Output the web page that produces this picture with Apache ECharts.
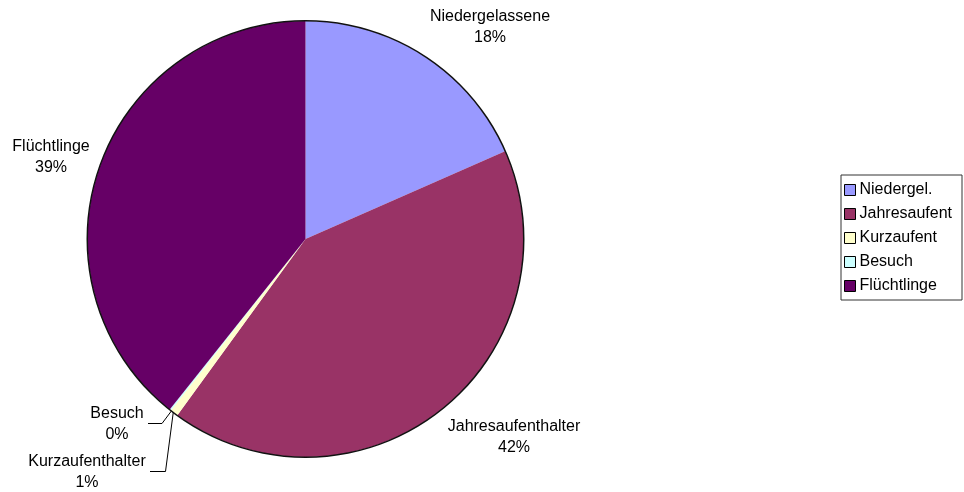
<!DOCTYPE html>
<html>
<head>
<meta charset="utf-8">
<script src="https://cdn.jsdelivr.net/npm/echarts@6/dist/echarts.min.js"></script>
<style>
html,body{margin:0;padding:0;background:#fff;}
#chart{width:964px;height:492px;}
</style>
</head>
<body>
<div id="chart"></div>
<script>
var legendNames = ['Niedergel.', 'Jahresaufent', 'Kurzaufent', 'Besuch', 'Flüchtlinge'];
var labelNames = ['Niedergelassene', 'Jahresaufenthalter', 'Kurzaufenthalter', 'Besuch', 'Flüchtlinge'];
var values = [18.4, 41.6, 0.6, 0.1, 39.3];
var colors = ['#9999FF', '#993366', '#FFFFCC', '#CCFFFF', '#660066'];

var total = values.reduce(function (a, b) { return a + b; }, 0);
var pcts = values.map(function (v) { return Math.round(v / total * 100); });

var labelPos = [
  { x: 490, y: 27 },
  { x: 514, y: 437 },
  { x: 87, y: 472 },
  { x: 117, y: 424 },
  { x: 51, y: 157 }
];
var linePts = {
  2: [[173.5, 410.5], [165.5, 471.5], [150, 471.5]],
  3: [[172.5, 409.5], [162, 423.5], [148, 423.5]]
};

var pieData = values.map(function (v, i) {
  return {
    name: legendNames[i],
    value: v,
    itemStyle: { color: colors[i] },
    labelLine: { show: !!linePts[i] }
  };
});

var chart = echarts.init(document.getElementById('chart'), null, { renderer: 'canvas' });
chart.setOption({
  animation: false,
  backgroundColor: '#ffffff',
  legend: {
    orient: 'vertical',
    left: 841,
    top: 175,
    padding: [7, 10, 6, 3],
    itemWidth: 11,
    itemHeight: 11,
    itemGap: 8,
    borderColor: '#333333',
    borderWidth: 1,
    data: legendNames,
    icon: 'rect',
    itemStyle: { borderColor: '#000', borderWidth: 1 },
    textStyle: { fontFamily: 'Liberation Sans, Arial, sans-serif', fontSize: 16, color: '#000', lineHeight: 16, padding: [0, 0, 0, -1] }
  },
  series: [
    {
      type: 'pie',
      center: [305.5, 239],
      radius: 218,
      startAngle: 90,
      clockwise: true,
      avoidLabelOverlap: false,
      data: pieData,
      itemStyle: { borderWidth: 0 },
      label: {
        show: true,
        position: 'outside',
        fontFamily: 'Liberation Sans, Arial, sans-serif',
        fontSize: 16,
        lineHeight: 21,
        color: '#000',
        align: 'center',
        formatter: function (p) {
          return labelNames[p.dataIndex] + '\n' + pcts[p.dataIndex] + '%';
        }
      },
      labelLine: { lineStyle: { color: '#000', width: 1 }, smooth: false },
      labelLayout: function (params) {
        var i = params.dataIndex;
        var r = { x: labelPos[i].x, y: labelPos[i].y, align: 'center', verticalAlign: 'middle' };
        if (linePts[i]) { r.labelLinePoints = linePts[i]; }
        return r;
      },
      emphasis: { disabled: true }
    },
    {
      type: 'pie',
      silent: true,
      center: [305.5, 239],
      radius: [217.5, 219],
      startAngle: 90,
      label: { show: false },
      labelLine: { show: false },
      data: [{ name: '_edge', value: 1, itemStyle: { color: '#111' } }],
      emphasis: { disabled: true }
    }
  ]
});
</script>
</body>
</html>
